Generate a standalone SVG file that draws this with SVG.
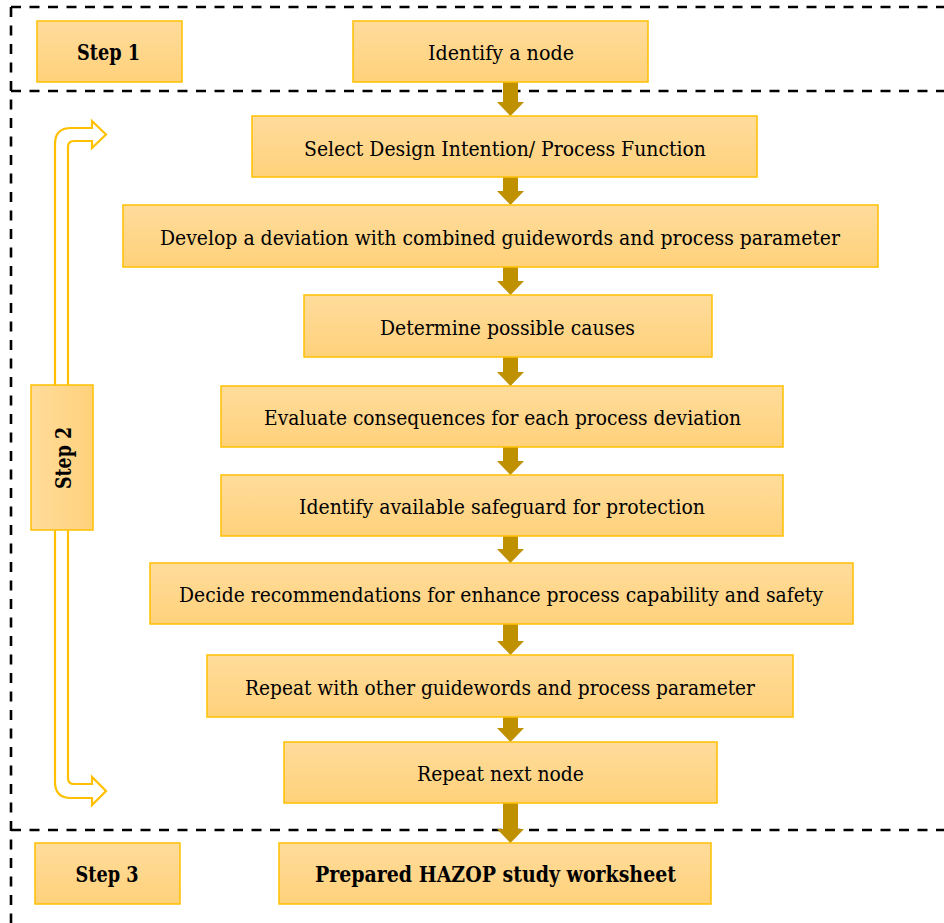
<svg xmlns="http://www.w3.org/2000/svg" width="944" height="923" viewBox="0 0 944 923">
<defs>
<linearGradient id="gv" x1="0" y1="0" x2="0" y2="1">
<stop offset="0" stop-color="#FFDC9C"/>
<stop offset="1" stop-color="#FFD17A"/>
</linearGradient>
<linearGradient id="gh" x1="0" y1="0" x2="1" y2="0">
<stop offset="0" stop-color="#FFDC9C"/>
<stop offset="1" stop-color="#FFD17A"/>
</linearGradient>
</defs>
<style>
.box{fill:url(#gv);stroke:#FFC000;stroke-width:1.5}
.boxh{fill:url(#gh);stroke:#FFC000;stroke-width:1.5}
.dash{stroke:#000;stroke-width:2.6;stroke-dasharray:10,8.5;fill:none}
.ar{fill:#BF9000}
.loop{fill:#fff;stroke:#FFC000;stroke-width:2.2;stroke-linejoin:miter}
.bt{font-weight:bold;font-size:22px}
</style>
<rect width="944" height="923" fill="#fff"/>
<g id="frame">
<path class="dash" d="M11,7 H944 M11,91 H944 M11,830 H944 M11,7 V923"/>
</g>
<g id="loop-arrow">
<path class="loop" d="M106,134.5 L92,121 V128 H71 Q55,128 55,144 V782 Q55,798 71,798 H92 V805 L106,791 L92,777 V784 H74 Q68,784 68,778 V147 Q68,141 74,141 H92 V148 Z"/>
</g>
<g id="connectors">
<path class="ar" d="M503,82 H518 V102 H524 L510.5,116 L497,102 H503 Z"/>
<path class="ar" d="M503,177 H518 V191 H524 L510.5,205 L497,191 H503 Z"/>
<path class="ar" d="M503,267 H518 V281 H524 L510.5,295 L497,281 H503 Z"/>
<path class="ar" d="M503,357 H518 V372 H524 L510.5,386 L497,372 H503 Z"/>
<path class="ar" d="M503,447 H518 V461 H524 L510.5,475 L497,461 H503 Z"/>
<path class="ar" d="M503,536 H518 V549 H524 L510.5,563 L497,549 H503 Z"/>
<path class="ar" d="M503,624 H518 V641 H524 L510.5,655 L497,641 H503 Z"/>
<path class="ar" d="M503,717 H518 V728 H524 L510.5,742 L497,728 H503 Z"/>
<path class="ar" d="M503,803 H518 V829 H524 L510.5,843 L497,829 H503 Z"/>
</g>
<g font-family="'DejaVu Serif', serif" font-size="21px" fill="#000" text-anchor="middle">
<g id="step1">
<rect class="box" x="37" y="21" width="145" height="61"/>
<text class="bt" x="108.5" y="60" textLength="63" lengthAdjust="spacingAndGlyphs">Step 1</text>
</g>
<g id="identify-node">
<rect class="box" x="353" y="21" width="295" height="61"/>
<text x="501" y="60" textLength="146" lengthAdjust="spacingAndGlyphs">Identify a node</text>
</g>
<g id="select-design">
<rect class="box" x="252" y="116" width="505" height="61"/>
<text x="505" y="155.5" textLength="402" lengthAdjust="spacingAndGlyphs">Select Design Intention/ Process Function</text>
</g>
<g id="develop-deviation">
<rect class="box" x="123" y="205" width="755" height="62"/>
<text x="500" y="245" textLength="680" lengthAdjust="spacingAndGlyphs">Develop a deviation with combined guidewords and process parameter</text>
</g>
<g id="determine-causes">
<rect class="box" x="304" y="295" width="408" height="62"/>
<text x="507.5" y="334.5" textLength="255" lengthAdjust="spacingAndGlyphs">Determine possible causes</text>
</g>
<g id="evaluate-consequences">
<rect class="box" x="221" y="386" width="562" height="61"/>
<text x="502.5" y="425" textLength="477" lengthAdjust="spacingAndGlyphs">Evaluate consequences for each process deviation</text>
</g>
<g id="identify-safeguard">
<rect class="box" x="221" y="475" width="562" height="61"/>
<text x="502" y="514" textLength="406" lengthAdjust="spacingAndGlyphs">Identify available safeguard for protection</text>
</g>
<g id="decide-recommendations">
<rect class="box" x="150" y="563" width="703" height="61"/>
<text x="501" y="602" textLength="644" lengthAdjust="spacingAndGlyphs">Decide recommendations for enhance process capability and safety</text>
</g>
<g id="repeat-guidewords">
<rect class="box" x="207" y="655" width="586" height="62"/>
<text x="500" y="694.5" textLength="510" lengthAdjust="spacingAndGlyphs">Repeat with other guidewords and process parameter</text>
</g>
<g id="repeat-next-node">
<rect class="box" x="284" y="742" width="433" height="61"/>
<text x="500.5" y="781" textLength="167" lengthAdjust="spacingAndGlyphs">Repeat next node</text>
</g>
<g id="step2">
<rect class="boxh" x="31" y="385" width="62" height="145"/>
<text class="bt" transform="translate(71,458) rotate(-90)" x="0" y="0" textLength="62" lengthAdjust="spacingAndGlyphs">Step 2</text>
</g>
<g id="step3">
<rect class="box" x="35" y="843" width="145" height="61"/>
<text class="bt" x="107" y="882" textLength="63" lengthAdjust="spacingAndGlyphs">Step 3</text>
</g>
<g id="prepared-worksheet">
<rect class="box" x="279" y="843" width="432" height="61"/>
<text class="bt" x="495.5" y="882" textLength="361" lengthAdjust="spacingAndGlyphs">Prepared HAZOP study worksheet</text>
</g>
</g>
</svg>
